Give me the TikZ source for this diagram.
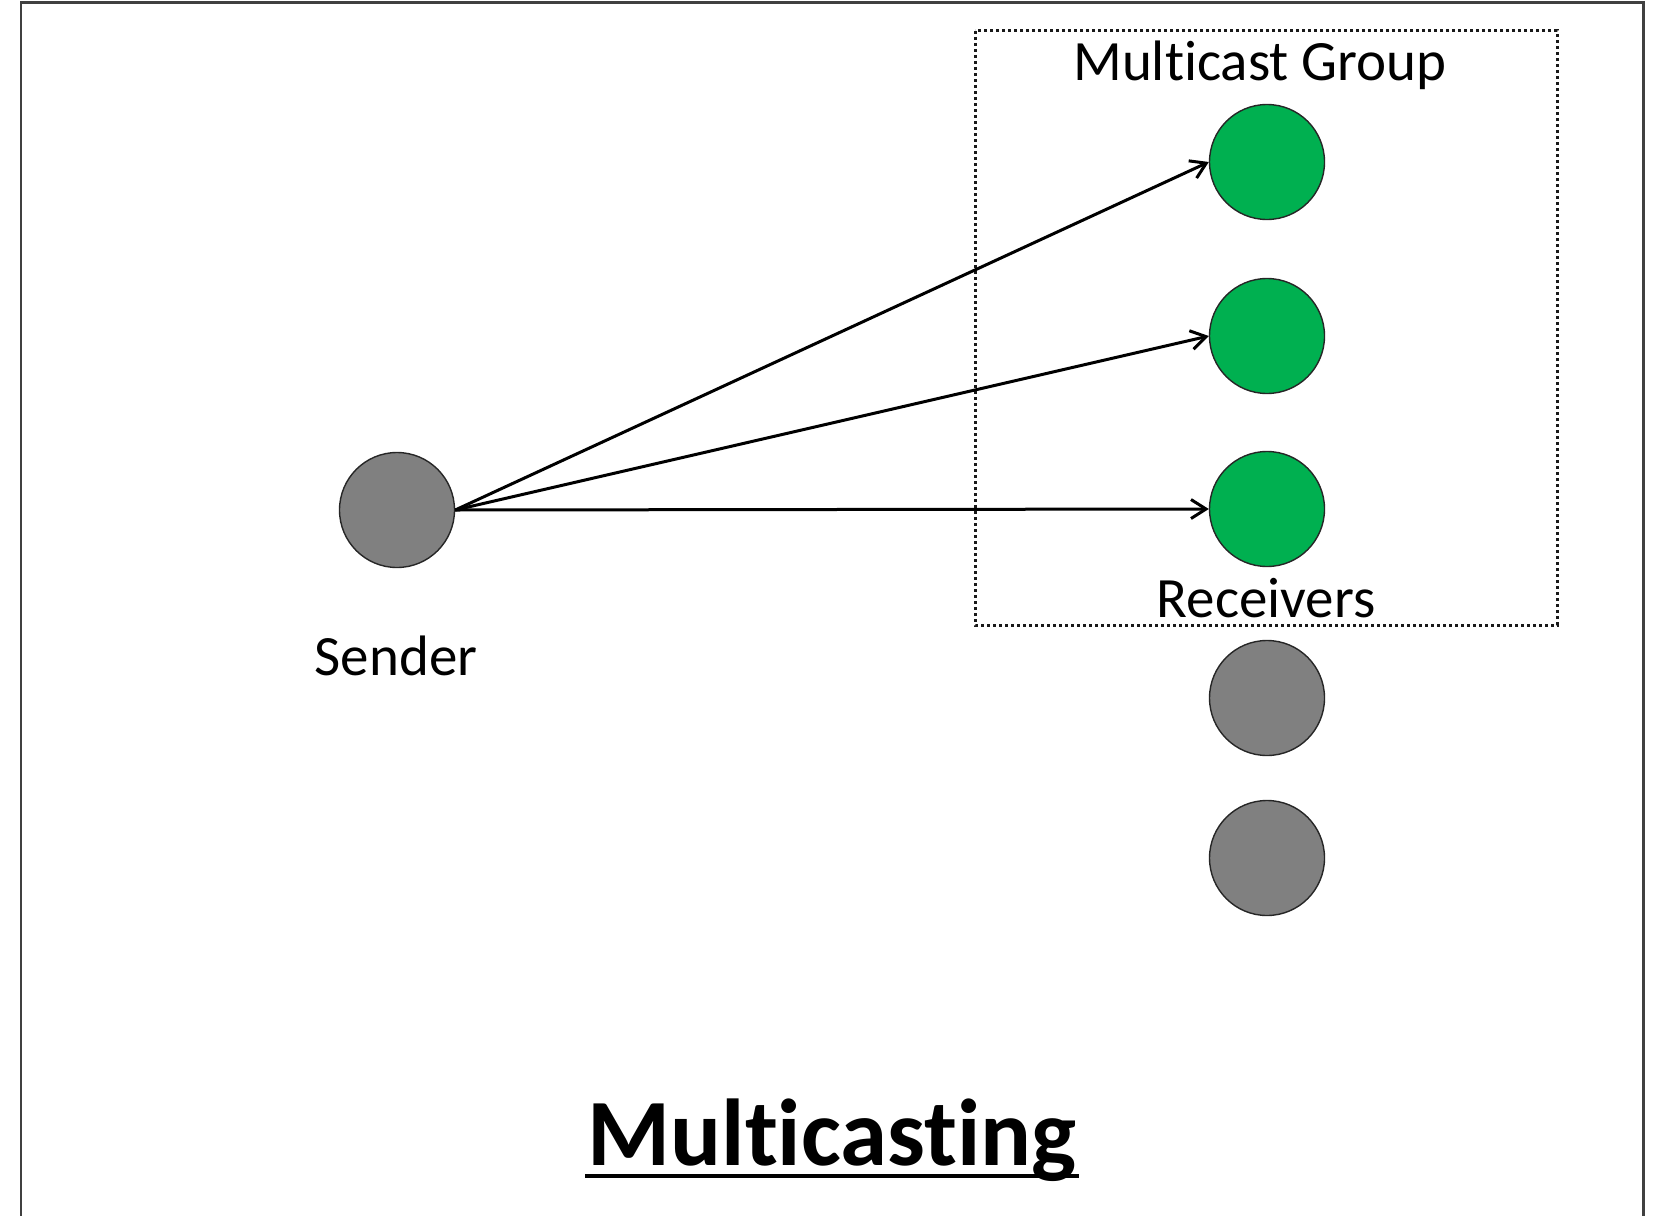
\documentclass[tikz,border=0pt]{standalone}
\usepackage{fontspec}
\setmainfont{Carlito}[RawFeature={-liga}]
\usetikzlibrary{arrows.meta}
\definecolor{nodegray}{RGB}{128,128,128}
\definecolor{nodegreen}{RGB}{0,176,80}
\begin{document}
\begin{tikzpicture}[x=1pt,y=-1pt,
  hostnode/.style={circle,draw=black!85,line width=1.4pt,minimum size=115pt,inner sep=0pt},
  idlehost/.style={hostnode,fill=nodegray},
  memberhost/.style={hostnode,fill=nodegreen},
  lbl/.style={font=\fontsize{57}{66}\selectfont,anchor=base,inner sep=0pt},
  sendarrow/.style={line width=3pt,-{Straight Barb[length=15pt,width=19pt,line width=3pt]}},
  groupbox/.style={line width=3pt,dash pattern=on 3pt off 3pt,draw=black!90}]
\useasboundingbox[clip] (0,0) rectangle (1664,1215);
\fill[white] (0,0) rectangle (1664,1215);
% frame around the slide
\draw[line width=2.6pt,black!75] (21,1240) -- (21,2.5) -- (1643.5,2.5) -- (1643.5,1240);

% multicast group outline
\draw[groupbox] (975,31) rectangle (1557,625);

% hosts
\node[idlehost] (snd) at (397,510) {};
\node[memberhost] (r1) at (1267,162) {};
\node[memberhost] (r2) at (1267,336) {};
\node[memberhost] (r3) at (1267,509) {};
\node[idlehost] (h4) at (1267,698) {};
\node[idlehost] (h5) at (1267,858) {};

% labels
\node[lbl] (tgroup) at (1260,81) {Multicast Group};
\node[lbl] (trecv) at (1266,617) {Receivers};
\node[lbl] (tsend) at (396,675) {Sender};
\node[anchor=base,inner sep=0pt,font=\bfseries\fontsize{95}{110}\selectfont] (title) at (832,1165) {Multicasting};
\draw[line width=4.5pt] ([xshift=-2pt,yshift=-11pt]title.base west) -- ([xshift=2pt,yshift=-11pt]title.base east);

% transmissions from the sender to each group member
\draw[sendarrow] (snd.east) -- (r1.west);
\draw[sendarrow] (snd.east) -- (r2.west);
\draw[sendarrow] (snd.east) -- (r3.west);
\end{tikzpicture}
\end{document}
